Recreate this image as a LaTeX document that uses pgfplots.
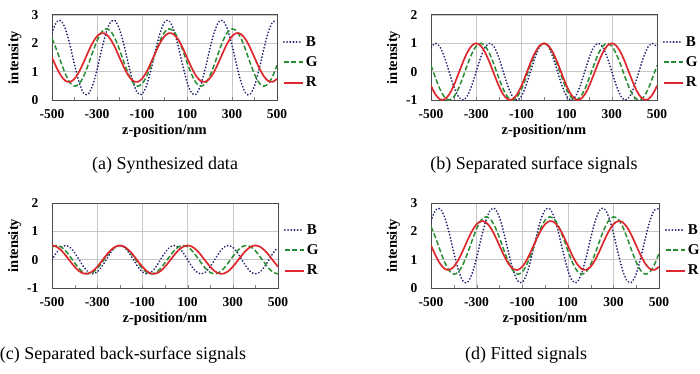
\documentclass[border=0pt]{standalone}
\usepackage{fontspec}
\setmainfont{Liberation Serif}
\usepackage{pgfplots}
\usepackage{pgfplotstable}
\pgfplotsset{compat=1.18}
\definecolor{navyB}{RGB}{30,35,110}
\definecolor{greenG}{RGB}{40,140,50}
\definecolor{redR}{RGB}{222,40,45}

\pgfplotstableread{
z Ba Ga Ra Bs Gs Rs Bk Gk Rk
-500 2.366 2.173 1.5 0.866 0.223 -0.5 0 0.451 0.5
-480 2.75 1.778 1.148 1 -0.223 -0.809 0.25 0.5 0.457
-460 2.799 1.327 0.857 0.866 -0.624 -0.978 0.433 0.451 0.335
-440 2.5 0.911 0.676 0.5 -0.901 -0.978 0.5 0.312 0.155
-420 1.933 0.611 0.639 0 -1 -0.809 0.433 0.111 -0.052
-400 1.25 0.488 0.75 -0.5 -0.901 -0.5 0.25 -0.111 -0.25
-380 0.634 0.565 0.991 -0.866 -0.624 -0.105 0 -0.312 -0.405
-360 0.25 0.827 1.32 -1 -0.223 0.309 -0.25 -0.451 -0.489
-340 0.201 1.223 1.68 -0.866 0.223 0.669 -0.433 -0.5 -0.489
-320 0.5 1.673 2.009 -0.5 0.624 0.914 -0.5 -0.451 -0.405
-300 1.067 2.089 2.25 0 0.901 1 -0.433 -0.312 -0.25
-280 1.75 2.389 2.361 0.5 1 0.914 -0.25 -0.111 -0.052
-260 2.366 2.512 2.324 0.866 0.901 0.669 0 0.111 0.155
-240 2.75 2.435 2.144 1 0.624 0.309 0.25 0.312 0.335
-220 2.799 2.173 1.852 0.866 0.223 -0.105 0.433 0.451 0.457
-200 2.5 1.778 1.5 0.5 -0.223 -0.5 0.5 0.5 0.5
-180 1.933 1.327 1.148 0 -0.624 -0.809 0.433 0.451 0.457
-160 1.25 0.911 0.857 -0.5 -0.901 -0.978 0.25 0.312 0.335
-140 0.634 0.611 0.676 -0.866 -1 -0.978 0 0.111 0.155
-120 0.25 0.488 0.639 -1 -0.901 -0.809 -0.25 -0.111 -0.052
-100 0.201 0.565 0.75 -0.866 -0.624 -0.5 -0.433 -0.312 -0.25
-80 0.5 0.827 0.991 -0.5 -0.223 -0.105 -0.5 -0.451 -0.405
-60 1.067 1.223 1.32 0 0.223 0.309 -0.433 -0.5 -0.489
-40 1.75 1.673 1.68 0.5 0.624 0.669 -0.25 -0.451 -0.489
-20 2.366 2.089 2.009 0.866 0.901 0.914 0 -0.312 -0.405
0 2.75 2.389 2.25 1 1 1 0.25 -0.111 -0.25
20 2.799 2.512 2.361 0.866 0.901 0.914 0.433 0.111 -0.052
40 2.5 2.435 2.324 0.5 0.624 0.669 0.5 0.312 0.155
60 1.933 2.173 2.144 0 0.223 0.309 0.433 0.451 0.335
80 1.25 1.778 1.852 -0.5 -0.223 -0.105 0.25 0.5 0.457
100 0.634 1.327 1.5 -0.866 -0.624 -0.5 0 0.451 0.5
120 0.25 0.911 1.148 -1 -0.901 -0.809 -0.25 0.312 0.457
140 0.201 0.611 0.857 -0.866 -1 -0.978 -0.433 0.111 0.335
160 0.5 0.488 0.676 -0.5 -0.901 -0.978 -0.5 -0.111 0.155
180 1.067 0.565 0.639 0 -0.624 -0.809 -0.433 -0.312 -0.052
200 1.75 0.827 0.75 0.5 -0.223 -0.5 -0.25 -0.451 -0.25
220 2.366 1.223 0.991 0.866 0.223 -0.105 0 -0.5 -0.405
240 2.75 1.673 1.32 1 0.624 0.309 0.25 -0.451 -0.489
260 2.799 2.089 1.68 0.866 0.901 0.669 0.433 -0.312 -0.489
280 2.5 2.389 2.009 0.5 1 0.914 0.5 -0.111 -0.405
300 1.933 2.512 2.25 0 0.901 1 0.433 0.111 -0.25
320 1.25 2.435 2.361 -0.5 0.624 0.914 0.25 0.312 -0.052
340 0.634 2.173 2.324 -0.866 0.223 0.669 0 0.451 0.155
360 0.25 1.778 2.144 -1 -0.223 0.309 -0.25 0.5 0.335
380 0.201 1.327 1.852 -0.866 -0.624 -0.105 -0.433 0.451 0.457
400 0.5 0.911 1.5 -0.5 -0.901 -0.5 -0.5 0.312 0.5
420 1.067 0.611 1.148 0 -1 -0.809 -0.433 0.111 0.457
440 1.75 0.488 0.857 0.5 -0.901 -0.978 -0.25 -0.111 0.335
460 2.366 0.565 0.676 0.866 -0.624 -0.978 0 -0.312 0.155
480 2.75 0.827 0.639 1 -0.223 -0.809 0.25 -0.451 -0.052
500 2.799 1.223 0.75 0.866 0.223 -0.5 0.433 -0.5 -0.25
}\data

\newcommand{\lgB}{\textbf{\fontsize{15}{15}\selectfont B}}
\newcommand{\lgG}{\textbf{\fontsize{15}{15}\selectfont G}}
\newcommand{\lgR}{\textbf{\fontsize{15}{15}\selectfont R}}

\pgfplotsset{
  panel/.style={
    scale only axis, height=85pt,
    xmin=-500, xmax=500,
    xtick={-500,-300,-100,100,300,500},
    xticklabels={-500,-300,-100,100,300,500},
    minor xtick={-400,-200,0,200,400},
    xtick pos=left, ytick pos=left,
    xmajorgrids, ymajorgrids,
    grid style={color=black!22, line width=0.6pt},
    axis line style={color=black!70, line width=1pt},
    major tick length=3pt, minor tick length=3pt,
    ytick style={draw=none},
    ticklabel style={font=\fontsize{13.5}{13.5}\selectfont\bfseries},
    xticklabel style={yshift=-5.5pt},
    yticklabel style={xshift=-10pt},
    label style={font=\fontsize{14.5}{14.5}\selectfont\bfseries},
    xlabel={z-position/nm},
    ylabel={intensity},
    xlabel style={at={(axis description cs:0.5,-0.37)}, anchor=center},
    ylabel style={at={(axis description cs:-0.165,0.5)}, anchor=center},
    legend style={draw=none, fill=none, at={(axis description cs:1.025,0.775)},
      anchor=north west, row sep=5pt, inner sep=0pt},
    legend cell align=left,
  },
  ya/.style={ymin=0, ymax=3, ytick={0,1,2,3}, yticklabels={0,1,2,3}},
  yb/.style={ymin=-1, ymax=2, ytick={-1,0,1,2}, yticklabels={-1,0,1,2}},
  bsty/.style={draw=navyB, line width=1.9pt, line cap=round, dash pattern=on 0.1pt off 3.1pt, smooth,
    legend image code/.code={\draw[navyB, line width=2pt, line cap=round, dash pattern=on 0.1pt off 3.1pt] (0pt,0pt) -- (19pt,0pt);}},
  gsty/.style={draw=greenG, line width=1.5pt, dash pattern=on 5pt off 2.5pt, smooth,
    legend image code/.code={\draw[greenG, line width=2pt, line cap=butt, dash pattern=on 5pt off 2.5pt] (0pt,0.5pt) -- (19pt,0.5pt);}},
  rsty/.style={draw=redR, line width=1.7pt, solid, smooth,
    legend image code/.code={\draw[redR, line width=2pt, line cap=butt, solid] (0pt,0pt) -- (19pt,0pt);}},
}

\begin{document}
\begin{tikzpicture}
\useasboundingbox (0pt,0pt) rectangle (700pt,373pt);

\begin{axis}[panel, ya, width=225pt, at={(52pt,273pt)}, anchor=south west]
\addplot[bsty] table[x=z,y=Ba]{\data};
\addplot[gsty] table[x=z,y=Ga]{\data};
\addplot[rsty] table[x=z,y=Ra]{\data};
\legend{\lgB,\lgG,\lgR}
\end{axis}

\begin{axis}[panel, yb, width=226pt, at={(431pt,273pt)}, anchor=south west]
\addplot[bsty] table[x=z,y=Bs]{\data};
\addplot[gsty] table[x=z,y=Gs]{\data};
\addplot[rsty] table[x=z,y=Rs]{\data};
\legend{\lgB,\lgG,\lgR}
\end{axis}

\begin{axis}[panel, yb, width=226pt, at={(52pt,85pt)}, anchor=south west]
\addplot[bsty] table[x=z,y=Bk]{\data};
\addplot[gsty] table[x=z,y=Gk]{\data};
\addplot[rsty] table[x=z,y=Rk]{\data};
\legend{\lgB,\lgG,\lgR}
\end{axis}

\begin{axis}[panel, ya, width=228pt, at={(431pt,85pt)}, anchor=south west]
\addplot[bsty] table[x=z,y=Ba]{\data};
\addplot[gsty] table[x=z,y=Ga]{\data};
\addplot[rsty] table[x=z,y=Ra]{\data};
\legend{\lgB,\lgG,\lgR}
\end{axis}

\node[font=\fontsize{18}{18}\selectfont] at (165pt,208pt) {(a) Synthesized data};
\node[font=\fontsize{18}{18}\selectfont] at (534pt,208pt) {(b) Separated surface signals};
\node[font=\fontsize{18}{18}\selectfont] at (123pt,18pt) {(c) Separated back-surface signals};
\node[font=\fontsize{18}{18}\selectfont] at (526pt,18pt) {(d) Fitted signals};
\end{tikzpicture}
\end{document}
